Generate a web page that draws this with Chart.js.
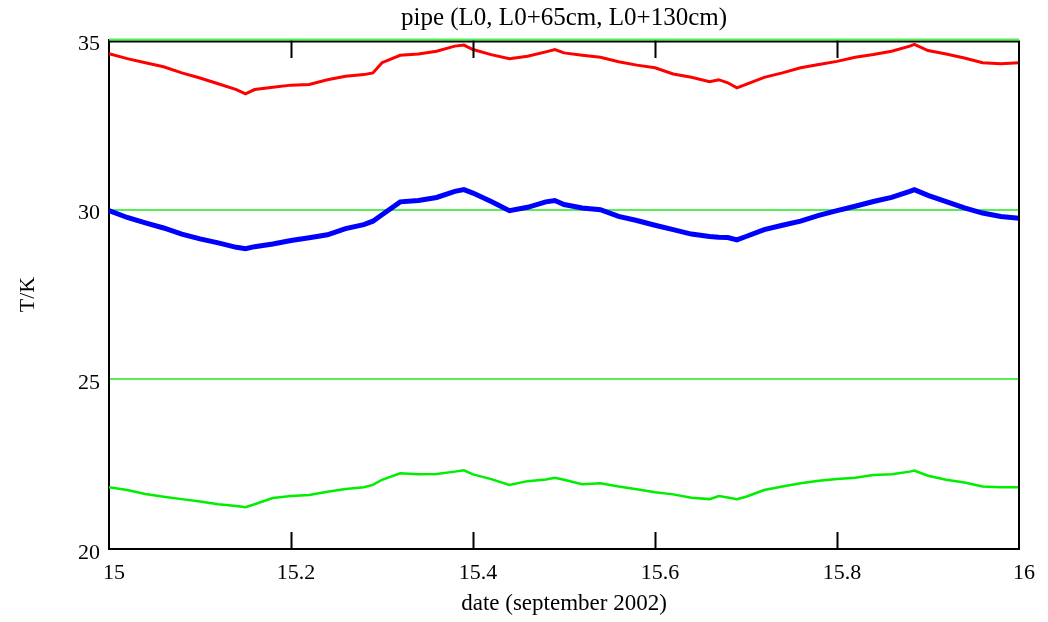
<!DOCTYPE html>
<html>
<head>
<meta charset="utf-8">
<title>pipe</title>
<script src="https://cdn.jsdelivr.net/npm/chart.js@4"></script>
<style>
  body { margin: 0; background: #ffffff; }
  canvas { display: block; }
</style>
</head>
<body>
<canvas id="pipeChart" width="1048" height="622"></canvas>
<script>
// date (day of september 2002)
const dates = [
    15.00, 15.02, 15.04, 15.06, 15.08, 15.10, 15.12, 15.14, 15.15, 15.16,
    15.18, 15.20, 15.22, 15.24, 15.26, 15.28, 15.29, 15.30, 15.32, 15.34,
    15.36, 15.38, 15.39, 15.40, 15.42, 15.44, 15.46, 15.48, 15.49, 15.50,
    15.52, 15.54, 15.56, 15.58, 15.60, 15.62, 15.64, 15.66, 15.67, 15.68,
    15.69, 15.70, 15.72, 15.74, 15.76, 15.78, 15.80, 15.82, 15.84, 15.86,
    15.88, 15.885, 15.90, 15.92, 15.94, 15.96, 15.98, 16.00
];

// T/K at L0+130cm (red)
const tempRed = [
    34.60, 34.45, 34.33, 34.21, 34.03, 33.88, 33.71, 33.54, 33.41, 33.54,
    33.61, 33.67, 33.69, 33.83, 33.93, 33.98, 34.03, 34.33, 34.55, 34.59,
    34.67, 34.82, 34.85, 34.72, 34.57, 34.45, 34.52, 34.65, 34.72, 34.62,
    34.55, 34.49, 34.36, 34.26, 34.18, 34.00, 33.90, 33.77, 33.83, 33.74,
    33.59, 33.69, 33.90, 34.03, 34.18, 34.28, 34.37, 34.49, 34.57, 34.67,
    34.82, 34.87, 34.69, 34.59, 34.47, 34.33, 34.30, 34.33
];

// T/K at L0+65cm (blue)
const tempBlue = [
    29.97, 29.77, 29.61, 29.46, 29.28, 29.14, 29.02, 28.89, 28.85, 28.91,
    28.99, 29.09, 29.17, 29.26, 29.44, 29.56, 29.66, 29.85, 30.23, 30.27,
    30.36, 30.54, 30.59, 30.49, 30.24, 29.97, 30.07, 30.23, 30.27, 30.15,
    30.05, 30.00, 29.80, 29.68, 29.54, 29.41, 29.28, 29.21, 29.19, 29.18,
    29.11, 29.21, 29.41, 29.54, 29.66, 29.83, 29.97, 30.10, 30.24, 30.36,
    30.54, 30.59, 30.42, 30.24, 30.05, 29.90, 29.80, 29.75
];

// T/K at L0 (green)
const tempGreen = [
    21.82, 21.74, 21.62, 21.54, 21.47, 21.40, 21.32, 21.27, 21.23, 21.32,
    21.50, 21.56, 21.59, 21.69, 21.77, 21.82, 21.89, 22.04, 22.23, 22.20,
    22.21, 22.28, 22.32, 22.20, 22.06, 21.89, 22.00, 22.05, 22.10, 22.04,
    21.91, 21.94, 21.84, 21.76, 21.67, 21.61, 21.51, 21.47, 21.56, 21.52,
    21.47, 21.54, 21.74, 21.84, 21.94, 22.01, 22.06, 22.10, 22.18, 22.20,
    22.28, 22.31, 22.16, 22.04, 21.96, 21.84, 21.82, 21.82
];

const xTicks = [15, 15.2, 15.4, 15.6, 15.8, 16];
const yTicks = [20, 25, 30, 35];

const chartTitle = 'pipe (L0, L0+65cm, L0+130cm)';

function toPoints(xs, ys) {
    return xs.map((x, i) => ({x: x, y: ys[i]}));
}

const serif = 'Liberation Serif, Times New Roman, serif';

//=================================================FRAME + INWARD TICKS========================================

const framePlugin = {
    id: 'frame',
    afterDatasetsDraw(chart) {
        const {ctx, chartArea, scales} = chart;
        ctx.save();
        ctx.strokeStyle = '#000000';
        ctx.lineWidth = 2;
        ctx.beginPath();
        // right and top edges of the box
        ctx.moveTo(chartArea.right, chartArea.bottom);
        ctx.lineTo(chartArea.right, chartArea.top + 1.5);
        ctx.lineTo(chartArea.left, chartArea.top + 1.5);
        // tick marks pointing into the plot
        for (const v of xTicks.slice(1, -1)) {
            const px = Math.round(scales.x.getPixelForValue(v)) + 0.5;
            ctx.moveTo(px, chartArea.bottom);
            ctx.lineTo(px, chartArea.bottom - 17);
            ctx.moveTo(px, chartArea.top);
            ctx.lineTo(px, chartArea.top + 18);
        }
        ctx.stroke();
        // green line on top (grid line at 35)
        ctx.strokeStyle = '#55ee55';
        ctx.beginPath();
        ctx.moveTo(chartArea.left, chartArea.top - 0.5);
        ctx.lineTo(chartArea.right, chartArea.top - 0.5);
        ctx.stroke();

        // title, centred over the plot box
        ctx.fillStyle = '#000000';
        ctx.font = '25px ' + serif;
        ctx.textAlign = 'center';
        ctx.textBaseline = 'middle';
        ctx.fillText(chartTitle, (chartArea.left + chartArea.right) / 2, 18);
        ctx.restore();
    }
};

const ctx = document.getElementById('pipeChart').getContext('2d');
const pipeChart = new Chart(ctx, {
    type: 'line',
    data: {
        datasets: [
            {
                label: 'L0+130cm',
                data: toPoints(dates, tempRed),
                borderColor: '#ff0000',
                borderWidth: 3,
                pointRadius: 0,
                tension: 0
            },
            {
                label: 'L0+65cm',
                data: toPoints(dates, tempBlue),
                borderColor: '#0000ff',
                borderWidth: 5,
                pointRadius: 0,
                tension: 0
            },
            {
                label: 'L0',
                data: toPoints(dates, tempGreen),
                borderColor: '#00ee00',
                borderWidth: 2.5,
                pointRadius: 0,
                tension: 0
            }
        ]
    },
    options: {
        responsive: false,
        animation: false,
        layout: {
            padding: {left: 0, right: 29, top: 40, bottom: 0}
        },
        plugins: {
            legend: {display: false},
            tooltip: {enabled: false},
            title: {display: false}
        },
        scales: {
            x: {
                type: 'linear',
                min: 15,
                max: 16,
                afterFit: (scale) => { scale.height = 73; },
                afterBuildTicks: (scale) => { scale.ticks = xTicks.map(v => ({value: v})); },
                ticks: {
                    color: '#000000',
                    font: {family: serif, size: 22},
                    padding: 11,
                    labelOffset: 5,
                    maxRotation: 0,
                    callback: (v) => String(Number(v.toFixed(1)))
                },
                grid: {display: false, drawTicks: false},
                border: {display: true, color: '#000000', width: 2},
                title: {
                    display: true,
                    text: 'date (september 2002)',
                    color: '#000000',
                    font: {family: serif, size: 23},
                    padding: {top: 0, bottom: 4}
                }
            },
            y: {
                min: 20,
                max: 35,
                afterFit: (scale) => { scale.width = 109; },
                afterBuildTicks: (scale) => { scale.ticks = yTicks.map(v => ({value: v})); },
                ticks: {
                    color: '#000000',
                    font: {family: serif, size: 22},
                    padding: 9,
                    labelOffset: 4
                },
                grid: {
                    color: '#55ee55',
                    lineWidth: 2,
                    drawTicks: false
                },
                border: {display: true, color: '#000000', width: 2},
                title: {
                    display: true,
                    text: 'T/K',
                    color: '#000000',
                    font: {family: serif, size: 22},
                    padding: {top: 15, bottom: 0}
                }
            }
        }
    },
    plugins: [framePlugin]
});
</script>
</body>
</html>
